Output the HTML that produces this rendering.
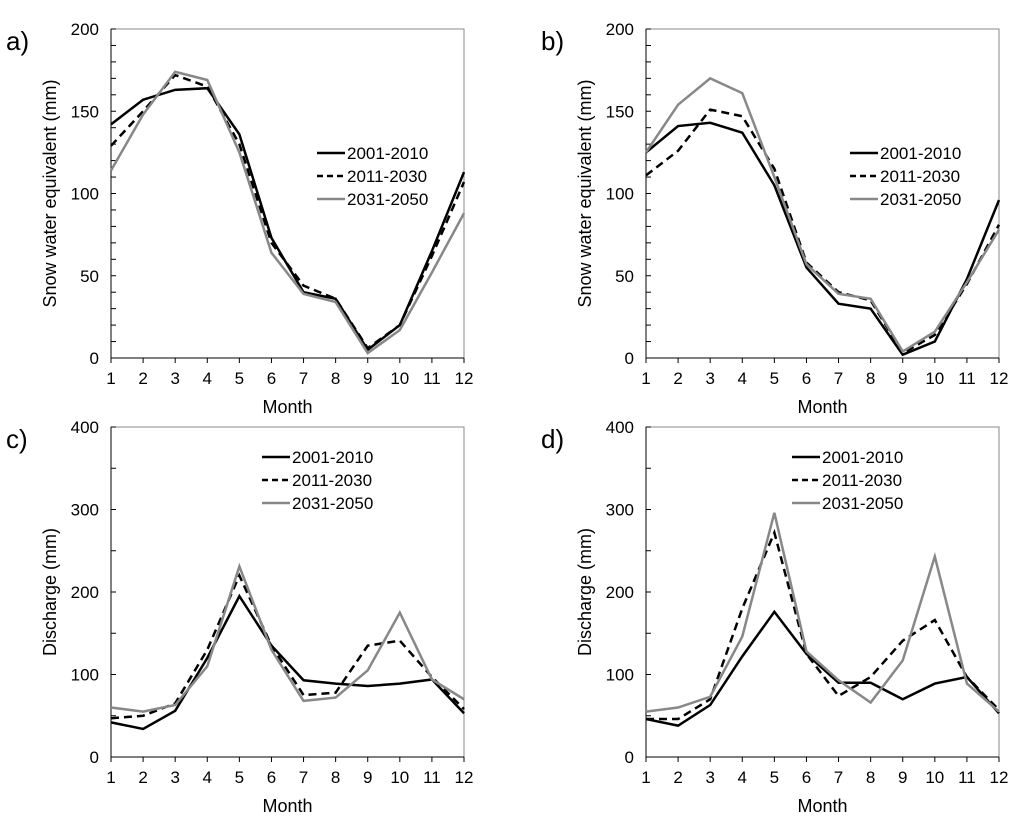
<!DOCTYPE html>
<html><head><meta charset="utf-8"><style>
body{margin:0;background:#fff;}
svg text{font-family:"Liberation Sans",Arial,sans-serif;fill:#000;}
</style></head><body>
<svg id="chart" width="1024" height="822" xmlns="http://www.w3.org/2000/svg"></svg>
<script>
const months = [1,2,3,4,5,6,7,8,9,10,11,12];
const seriesNames = ["2001-2010","2011-2030","2031-2050"];
const aS1 = [142,157,163,164,136,73,40,36,5,20,65,113];
const aS2 = [129,150,172,165,130,70,44,36,6,20,62,107];
const aS3 = [114,148,174,169,125,64,39,34,3,17,52,88];
const bS1 = [125,141,143,137,105,55,33,30,2,10,48,96];
const bS2 = [111,126,151,147,115,58,40,35,3,14,45,81];
const bS3 = [125,154,170,161,110,57,39,36,4,16,46,78];
const cS1 = [42,34,56,120,195,135,93,89,86,89,94,53];
const cS2 = [47,50,65,130,220,135,75,78,135,141,97,58];
const cS3 = [60,55,63,110,231,130,68,72,105,175,94,70];
const dS1 = [46,38,63,122,176,125,90,90,70,89,97,53];
const dS2 = [46,46,70,180,272,125,74,97,141,166,97,57];
const dS3 = [55,60,73,146,296,128,93,66,117,243,89,55];
const sweTicks = [0,50,100,150,200];
const disTicks = [0,100,200,300,400];

const NS="http://www.w3.org/2000/svg";
const svg=document.getElementById('chart');
function mk(tag,attrs,parent,txt){const e=document.createElementNS(NS,tag);for(const k in attrs)e.setAttribute(k,attrs[k]);if(txt!==undefined)e.textContent=txt;(parent||svg).appendChild(e);return e;}
const styles=[{stroke:"#000",dash:"none"},{stroke:"#000",dash:"8,5"},{stroke:"#888",dash:"none"}];

function panel(id,letter,x0,x1,yTop,yBot,ticks,minor,yTitle,data,legX,legY){
  const g=mk('g',{});
  
  
  const ymax=ticks[ticks.length-1];
  const X=m=>x0+(m-1)*(x1-x0)/11;
  const Y=v=>yBot-v/ymax*(yBot-yTop);
  const fr=mk('rect',{x:x0,y:yTop,width:x1-x0,height:yBot-yTop,fill:'none',stroke:'#888','stroke-width':1},g);
  
  
  mk('line',{x1:x0,y1:yTop,x2:x0,y2:yBot,stroke:'#000','stroke-width':1},g);
  mk('line',{x1:x0,y1:yBot,x2:x1,y2:yBot,stroke:'#000','stroke-width':1},g);
  for(let v=0;v<=ymax;v+=minor){mk('line',{x1:x0,y1:Y(v),x2:x0+5,y2:Y(v),stroke:'#000'},g);}
  ticks.forEach(v=>{const t=mk('text',{x:x0-12,y:Y(v)+6,'text-anchor':'end','font-size':17},g,v);
    
    });
  months.forEach(m=>{mk('line',{x1:X(m),y1:yBot,x2:X(m),y2:yBot+5,stroke:'#000'},g);
    const t=mk('text',{x:X(m),y:yBot+26,'text-anchor':'middle','font-size':17},g,m);
    
    });
  const xt=mk('text',{x:(x0+x1)/2,y:yBot+55,'text-anchor':'middle','font-size':18},g,'Month');
  
  
  const yc=(yTop+yBot)/2, yx=x0-55;
  const yt=mk('text',{x:yx,y:yc,'text-anchor':'middle','font-size':18,transform:`rotate(-90 ${yx} ${yc})`},g,yTitle);
  
  
  const pl=mk('text',{x:x0-105,y:yTop+21,'font-size':26},g,letter);
  
  
  data.forEach((arr,i)=>{
    const p=mk('polyline',{points:arr.map((v,j)=>X(months[j])+','+Y(v)).join(' '),fill:'none',stroke:styles[i].stroke,'stroke-width':2.5,'stroke-dasharray':styles[i].dash,'stroke-linejoin':'miter'},g);
    
    
    const ly=legY+i*23;
    const ll=mk('line',{x1:legX,y1:ly,x2:legX+28,y2:ly,stroke:styles[i].stroke,'stroke-width':2.5,'stroke-dasharray':styles[i].dash==='none'?'none':'6,4'},g);
    
    
    const lt=mk('text',{x:legX+30,y:ly+6,'font-size':17},g,seriesNames[i]);
    
    
  });
}
panel('a','a)',111,464,29,358,sweTicks,10,'Snow water equivalent (mm)',[aS1,aS2,aS3],317,153);
panel('b','b)',646,999,29,358,sweTicks,10,'Snow water equivalent (mm)',[bS1,bS2,bS3],850,153);
panel('c','c)',111,464,427,757,disTicks,50,'Discharge (mm)',[cS1,cS2,cS3],262,457);
panel('d','d)',646,999,427,757,disTicks,50,'Discharge (mm)',[dS1,dS2,dS3],792,457);
</script>
</body></html>
